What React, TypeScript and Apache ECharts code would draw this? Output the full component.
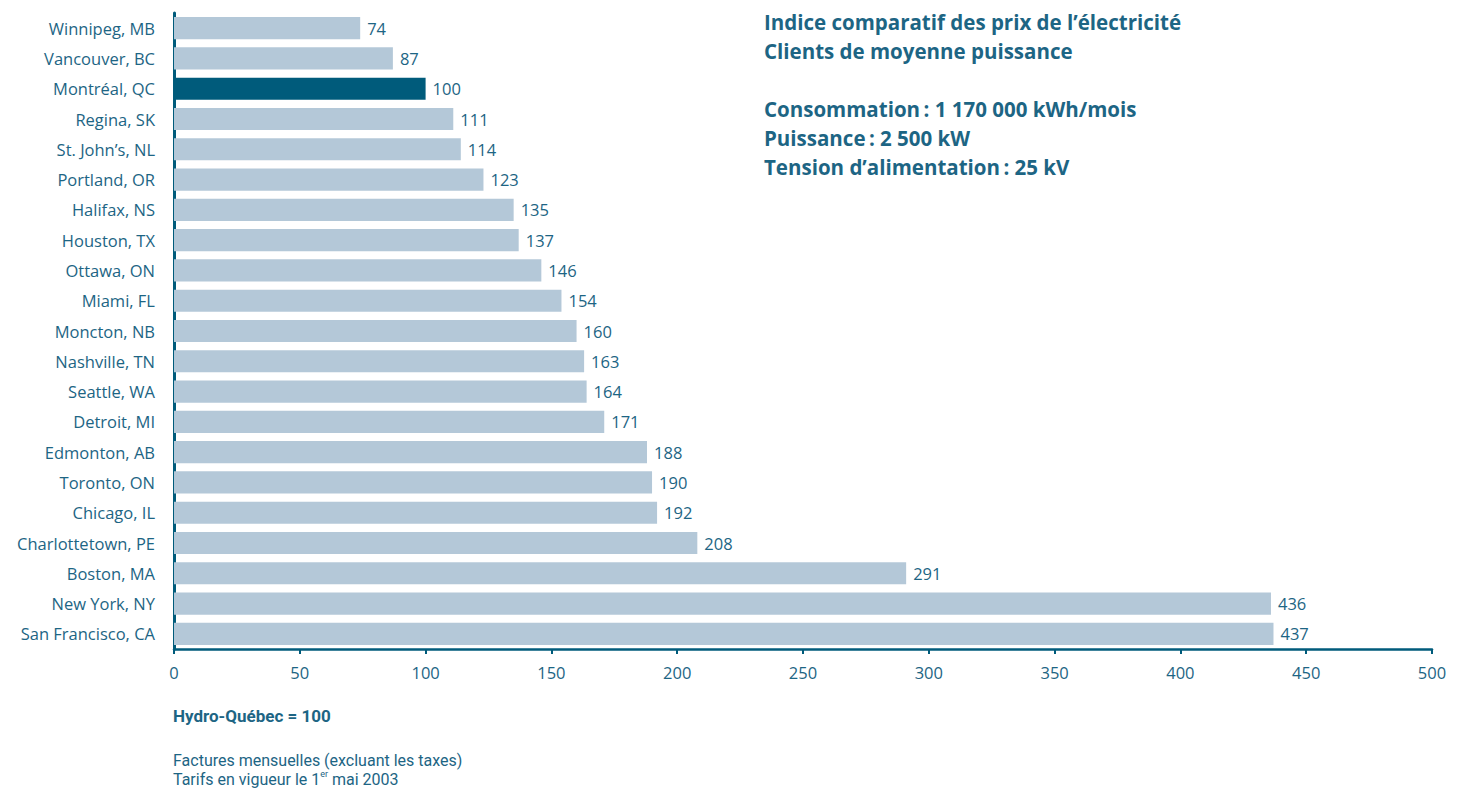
import React, { useEffect, useRef } from "react";
import * as echarts from "echarts";

const cities = [
  "Winnipeg, MB", "Vancouver, BC", "Montréal, QC", "Regina, SK", "St. John’s, NL",
  "Portland, OR", "Halifax, NS", "Houston, TX", "Ottawa, ON", "Miami, FL",
  "Moncton, NB", "Nashville, TN", "Seattle, WA", "Detroit, MI", "Edmonton, AB",
  "Toronto, ON", "Chicago, IL", "Charlottetown, PE", "Boston, MA", "New York, NY",
  "San Francisco, CA",
];
const indexValues = [74, 87, 100, 111, 114, 123, 135, 137, 146, 154, 160, 163, 164, 171, 188, 190, 192, 208, 291, 436, 437];
const highlighted = "Montréal, QC";
const titleLines = [
  "Indice comparatif des prix de l’électricité",
  "Clients de moyenne puissance",
  "",
  "Consommation\u2009: 1 170 000 kWh/mois",
  "Puissance\u2009: 2 500 kW",
  "Tension d’alimentation\u2009: 25 kV",
];

const TEAL = "#005b7b";
const TEXT = "#1d6584";
const BAR = "#b4c8d8";
const FONT = "'Open Sans', 'Noto Sans', sans-serif";
const FOOT_FONT = "Roboto, 'Open Sans', sans-serif";

export default function App() {
  const ref = useRef<HTMLDivElement>(null);
  useEffect(() => {
    if (!ref.current) return;
    const chart = echarts.init(ref.current, undefined, { renderer: "svg" });
    chart.setOption({
      animation: false,
      backgroundColor: "#ffffff",
      textStyle: { fontFamily: FONT },
      grid: { left: 174, right: 33, top: 13, bottom: 143, containLabel: false },
      xAxis: {
        type: "value",
        min: 0,
        max: 500,
        interval: 50,
        axisLine: { show: true, lineStyle: { color: TEAL, width: 2.5 } },
        axisTick: { show: true, length: 5, lineStyle: { color: TEAL, width: 2 } },
        splitLine: { show: false },
        axisLabel: { color: TEXT, fontSize: 16.5, margin: 15, fontFamily: FONT },
      },
      yAxis: {
        type: "category",
        data: cities,
        inverse: true,
        axisLine: { show: true, lineStyle: { color: TEAL, width: 3 } },
        axisTick: { show: false },
        axisLabel: { color: TEXT, fontSize: 16.5, margin: 19, fontFamily: FONT },
      },
      series: [
        {
          type: "bar",
          barCategoryGap: "27%",
          data: cities.map((c, i) => ({
            value: indexValues[i],
            itemStyle: { color: c === highlighted ? TEAL : BAR },
          })),
          label: {
            show: true,
            position: "right",
            distance: 7,
            color: TEXT,
            fontSize: 16.5,
            fontFamily: FONT,
          },
        },
      ],
      graphic: [
        {
          type: "text",
          left: 764,
          top: 7,
          style: {
            text: titleLines.join("\n"),
            fill: TEXT,
            font: `bold 20.5px ${FONT}`,
            lineHeight: 29,
          },
        },
        {
          type: "text",
          left: 173,
          top: 707,
          style: {
            text: "Hydro-Québec = 100",
            fill: TEXT,
            font: `bold 17px ${FOOT_FONT}`,
          },
        },
        {
          type: "text",
          left: 173,
          top: 752,
          style: {
            text: "{a|Factures mensuelles (excluant les taxes)}\n{a|Tarifs en vigueur le 1}{s|er}{a| mai 2003}",
            rich: {
              a: { fill: TEXT, fontSize: 16, fontFamily: FOOT_FONT, lineHeight: 19 },
              s: { fill: TEXT, fontSize: 9, fontFamily: FOOT_FONT, lineHeight: 19, verticalAlign: "top" },
            },
          },
        },
      ],
    });
    return () => chart.dispose();
  }, []);
  return (
    <div
      ref={ref}
      style={{ position: "absolute", left: 0, top: 0, width: 1465, height: 792 }}
    />
  );
}
